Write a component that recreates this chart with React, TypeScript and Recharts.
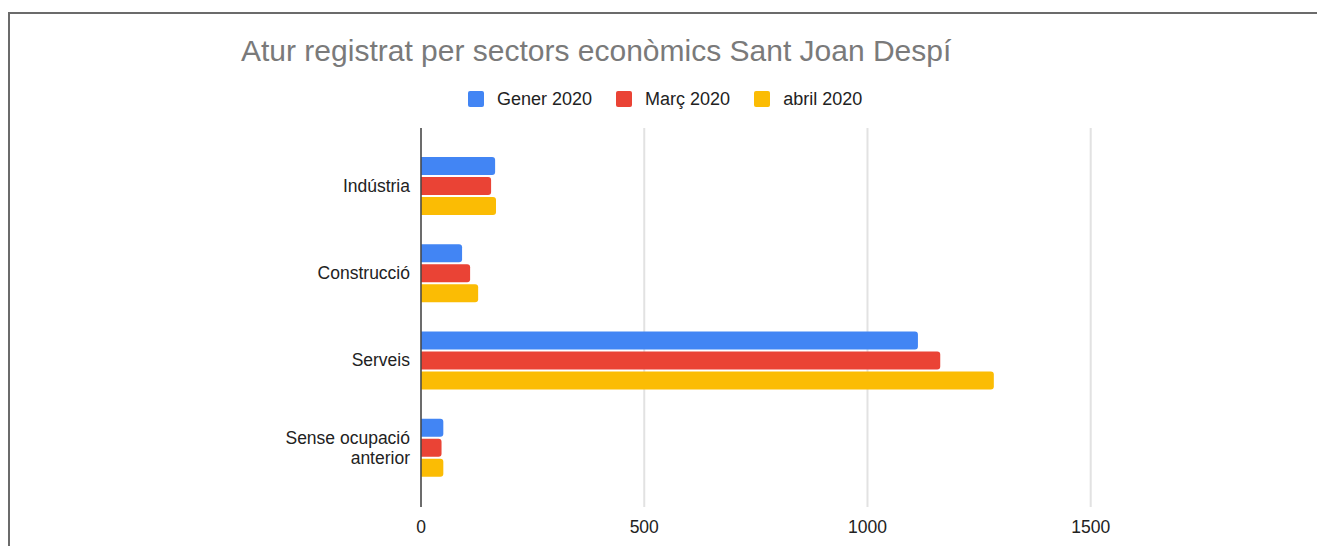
import { Bar, BarChart, CartesianGrid, XAxis, YAxis } from "recharts";

const CATEGORIES = ["Indústria", "Construcció", "Serveis", "Sense ocupació anterior"];
const GENER_2020 = [166, 92, 1113, 50];
const MARC_2020 = [157, 110, 1163, 46];
const ABRIL_2020 = [168, 128, 1283, 50];
const X_TICKS = [0, 500, 1000, 1500];

const SERIES = [
  { key: "gener", name: "Gener 2020", color: "#4285F4" },
  { key: "marc", name: "Març 2020", color: "#EA4335" },
  { key: "abril", name: "abril 2020", color: "#FBBC04" },
];

const FONT = '"Liberation Sans", Arial, sans-serif';

const rows = CATEGORIES.map((name, i) => ({
  name,
  gener: GENER_2020[i],
  marc: MARC_2020[i],
  abril: ABRIL_2020[i],
}));

// long labels wrap onto two lines, like the sheets chart does
function CategoryTick({ x, y, payload }: any) {
  const label: string = payload.value;
  let lines = [label];
  if (label.length > 15) {
    const cut = label.lastIndexOf(" ");
    lines = [label.slice(0, cut), label.slice(cut + 1)];
  }
  const step = 20;
  const start = -((lines.length - 1) * step) / 2;
  return (
    <text x={x} y={y} textAnchor="end" fill="#222" fontSize={17.5} fontFamily={FONT}>
      {lines.map((line, i) => (
        <tspan key={i} x={x} y={y + start + i * step} dy="0.355em">
          {line}
        </tspan>
      ))}
    </text>
  );
}

export default function App() {
  return (
    <div style={{ position: "relative", width: 1317, height: 546, marginBottom: -8, fontFamily: FONT }}>
      <div
        style={{
          position: "absolute",
          left: 0,
          top: 4,
          width: 1311,
          height: 542,
          borderTop: "2px solid #6b6b6b",
          borderLeft: "2px solid #6b6b6b",
          borderRight: "2px solid #6b6b6b",
        }}
      />
      <div
        style={{
          position: "absolute",
          left: 233,
          top: 26,
          fontSize: 30,
          color: "#7a7a7a",
          whiteSpace: "nowrap",
        }}
      >
        Atur registrat per sectors econòmics Sant Joan Despí
      </div>
      <div
        style={{
          position: "absolute",
          left: 460,
          top: 81,
          height: 20,
          display: "flex",
          alignItems: "center",
          gap: 24,
          fontSize: 18,
          color: "#222",
          whiteSpace: "nowrap",
        }}
      >
        {SERIES.map((s) => (
          <span key={s.key} style={{ display: "flex", alignItems: "center", gap: 13 }}>
            <span style={{ width: 16, height: 16, borderRadius: 2, background: s.color }} />
            <span>{s.name}</span>
          </span>
        ))}
      </div>
      <div style={{ position: "absolute", left: 0, top: 0 }}>
        <BarChart
          width={1317}
          height={546}
          data={rows}
          layout="vertical"
          margin={{ top: 120, right: 145, bottom: 0, left: 0 }}
          barSize={18}
          barGap={2}
        >
          <CartesianGrid horizontal={false} verticalValues={X_TICKS} stroke="#e2e2e2" strokeWidth={2} />
          <XAxis
            type="number"
            domain={[0, 1700]}
            ticks={X_TICKS}
            axisLine={false}
            tickLine={false}
            height={47}
            tickSize={6}
            tickMargin={8}
            tick={{ fill: "#222", fontSize: 17.5, fontFamily: FONT }}
          />
          <YAxis
            type="category"
            dataKey="name"
            width={413}
            padding={{ top: 14, bottom: 16 }}
            axisLine={{ stroke: "#444", strokeWidth: 1.5 }}
            tickLine={false}
            tickSize={6}
            tickMargin={5}
            tick={<CategoryTick />}
          />
          {SERIES.map((s) => (
            <Bar
              key={s.key}
              dataKey={s.key}
              name={s.name}
              fill={s.color}
              radius={[0, 3, 3, 0]}
              isAnimationActive={false}
            />
          ))}
        </BarChart>
      </div>
    </div>
  );
}
